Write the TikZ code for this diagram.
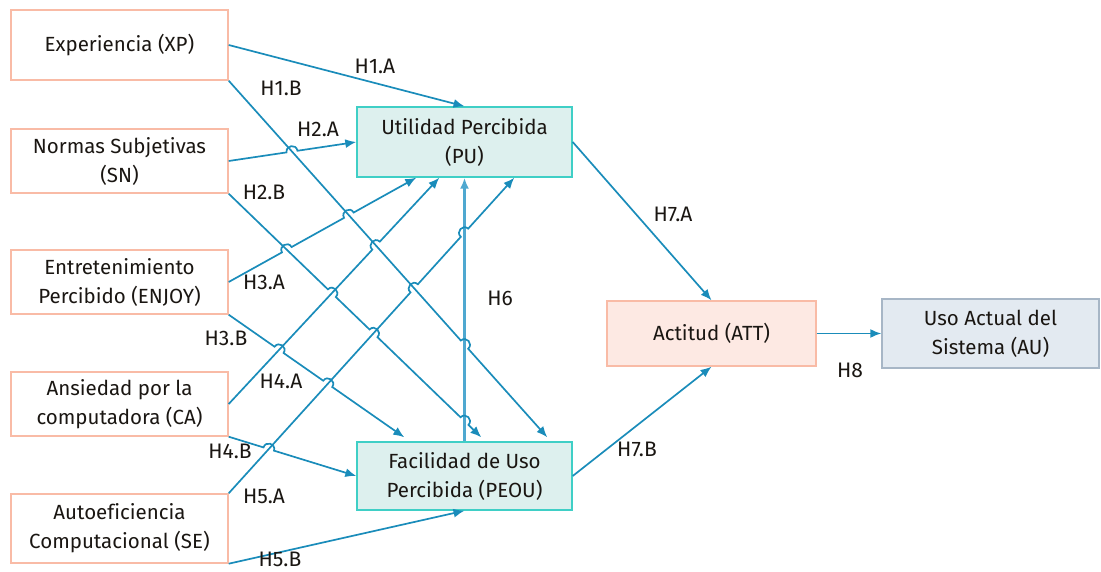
\documentclass[tikz,border=0pt]{standalone}
\usepackage{fontspec}
\setmainfont[Ligatures=NoCommon]{Fira Sans}
\usepackage{xcolor}
\definecolor{hyink}{HTML}{1A1612}
\definecolor{hyline}{HTML}{1A8CBA}
\definecolor{hylinelt}{HTML}{4FA8D0}
\definecolor{hysalmon}{HTML}{F9BBA6}
\definecolor{hyteal}{HTML}{3FCFC6}
\definecolor{hytealbg}{HTML}{DDF0EE}
\definecolor{hyattbg}{HTML}{FDE9E3}
\definecolor{hyaubg}{HTML}{E3EAF1}
\definecolor{hyauedge}{HTML}{A7B6C6}
\usepackage{tikz}
\usetikzlibrary{arrows.meta,calc,intersections}
\tikzset{
  hybox/.style  ={rectangle, draw=hysalmon, fill=white, line width=1.4pt,
                  minimum width=217pt, minimum height=64pt, inner sep=0pt,
                  align=center, text=hyink, font=\fontsize{20.5}{29}\selectfont},
  hymid/.style  ={hybox, draw=hyteal, fill=hytealbg, minimum width=215pt},
  hyatt/.style  ={hybox, fill=hyattbg, minimum width=209pt, minimum height=65pt},
  hyau/.style   ={hybox, draw=hyauedge, fill=hyaubg, minimum height=69pt},
  hyarrow/.style={-{Latex[length=11pt,width=9pt]}, line width=1.7pt, draw=hyline},
  hylbl/.style  ={text=hyink, font=\fontsize{21}{25}\selectfont, inner sep=0pt},
  % small jump over a crossing line, the crossing point is the target
  hop/.style    ={to path={-- ($(\tikztotarget)!5.5pt!(\tikztostart)$)
                   .. controls ($(\tikztotarget)!5.5pt!(\tikztostart)!7.3pt!90:(\tikztotarget)$)
                   and ($(\tikztotarget)!-5.5pt!(\tikztostart)!7.3pt!-90:(\tikztotarget)$)
                   .. ($(\tikztotarget)!-5.5pt!(\tikztostart)$)}},
}
\begin{document}
\begin{tikzpicture}[x=1pt, y=-1pt]
  \useasboundingbox (0,0) rectangle (1101,572);
  % constructs
  \node[hybox, minimum height=70pt] (xp) at (119.5,45) {Experiencia (XP)};
  \node[hybox] (sn)    at (119.5,161) {Normas Subjetivas\\(SN)};
  \node[hybox] (enjoy) at (119.5,282) {Entretenimiento\\Percibido (ENJOY)};
  \node[hybox] (ca)    at (119.5,404) {Ansiedad por la\\computadora (CA)};
  \node[hybox, minimum height=69pt] (se) at (119.5,528.5) {Autoeficiencia\\Computacional (SE)};
  \node[hymid, minimum height=70pt] (pu)   at (464.5,142) {Utilidad Percibida\\(PU)};
  \node[hymid, minimum height=68pt] (peou) at (464.5,476) {Facilidad de Uso\\Percibida (PEOU)};
  \node[hyatt] (att) at (711.5,333.5) {Actitud (ATT)};
  \node[hyau]  (au)  at (990.5,333.5) {Uso Actual del\\Sistema (AU)};
  % arrow ends on the box edges
  \coordinate (pu3a) at ($(pu.south west)+(60,0)$);
  \coordinate (pu4a) at ($(pu.south west)+(83,0)$);
  \coordinate (pu5a) at ($(pu.south west)+(158,0)$);
  \coordinate (pe1b) at ($(peou.north west)+(191,-4)$);
  \coordinate (pe2b) at ($(peou.north west)+(125,-4)$);
  \coordinate (pe3b) at ($(peou.north west)+(48,-4)$);
  % straight paths, only to find the crossings
  \path[name path=l1b] (xp.south east) -- (pe1b);
  \path[name path=l2b] (sn.south east) -- (pe2b);
  \path[name path=l3b] (enjoy.south east) -- (pe3b);
  \path[name path=l4b] (ca.south east) -- (peou.west);
  \path[name path=l2a] (sn.east) -- (pu.west);
  \path[name path=l3a] (enjoy.east) -- (pu3a);
  \path[name path=l4a] (ca.east) -- (pu4a);
  \path[name path=l5a] (se.north east) -- (pu5a);
  \path[name path=l6]  (peou.north) -- (pu.south);
  \path[name intersections={of=l2a and l1b, by=c2a1b}];
  \path[name intersections={of=l3a and l2b, by=c3a2b}];
  \path[name intersections={of=l3a and l1b, by=c3a1b}];
  \path[name intersections={of=l4a and l1b, by=c4a1b}];
  \path[name intersections={of=l5a and l1b, by=c5a1b}];
  \path[name intersections={of=l5a and l6, by=c5a6}];
  \path[name intersections={of=l2b and l4a, by=c2b4a}];
  \path[name intersections={of=l2b and l5a, by=c2b5a}];
  \path[name intersections={of=l2b and l6, by=c2b6}];
  \path[name intersections={of=l3b and l4a, by=c3b4a}];
  \path[name intersections={of=l3b and l5a, by=c3b5a}];
  \path[name intersections={of=l4b and l5a, by=c4b5a}];
  \path[name intersections={of=l1b and l6, by=c1b6}];
  % lines that are crossed
  \draw[hyarrow] (xp.east) -- (pu.north);
  \draw[hyarrow, line width=2.4pt, draw=hylinelt] (peou.north) -- (pu.south);
  \draw[hyarrow] (se.south east) -- (peou.south);
  \draw[hyarrow] (pu.east) -- (att.north);
  \draw[hyarrow] (peou.east) -- (att.south);
  \draw[hyarrow] (att.east) -- (au.west);
  % lines that jump
  \draw[hyarrow] (xp.south east) to[hop] (c1b6) -- (pe1b);
  \draw[hyarrow] (sn.east) to[hop] (c2a1b) -- (pu.west);
  \draw[hyarrow] (sn.south east) to[hop] (c2b4a) to[hop] (c2b5a) to[hop] (c2b6) -- (pe2b);
  \draw[hyarrow] (enjoy.east) to[hop] (c3a2b) to[hop] (c3a1b) -- (pu3a);
  \draw[hyarrow] (enjoy.south east) to[hop] (c3b4a) to[hop] (c3b5a) -- (pe3b);
  \draw[hyarrow] (ca.east) to[hop] (c4a1b) -- (pu4a);
  \draw[hyarrow] (ca.south east) to[hop] (c4b5a) -- (peou.west);
  \draw[hyarrow] (se.north east) to[hop] (c5a1b) to[hop] (c5a6) -- (pu5a);
  % hypotheses
  \node[hylbl] (h1a) at (375,66)  {H1.A};
  \node[hylbl] (h1b) at (281,88)  {H1.B};
  \node[hylbl] (h2a) at (318,129) {H2.A};
  \node[hylbl] (h2b) at (264,192) {H2.B};
  \node[hylbl] (h3a) at (264,282) {H3.A};
  \node[hylbl] (h3b) at (226,338) {H3.B};
  \node[hylbl] (h4a) at (281,381) {H4.A};
  \node[hylbl] (h4b) at (230,451) {H4.B};
  \node[hylbl] (h5a) at (264,496) {H5.A};
  \node[hylbl] (h5b) at (280,559) {H5.B};
  \node[hylbl] (h6)  at (500,298) {H6};
  \node[hylbl] (h7a) at (673,214) {H7.A};
  \node[hylbl] (h7b) at (637,449) {H7.B};
  \node[hylbl] (h8)  at (850,370) {H8};
\end{tikzpicture}
\end{document}
